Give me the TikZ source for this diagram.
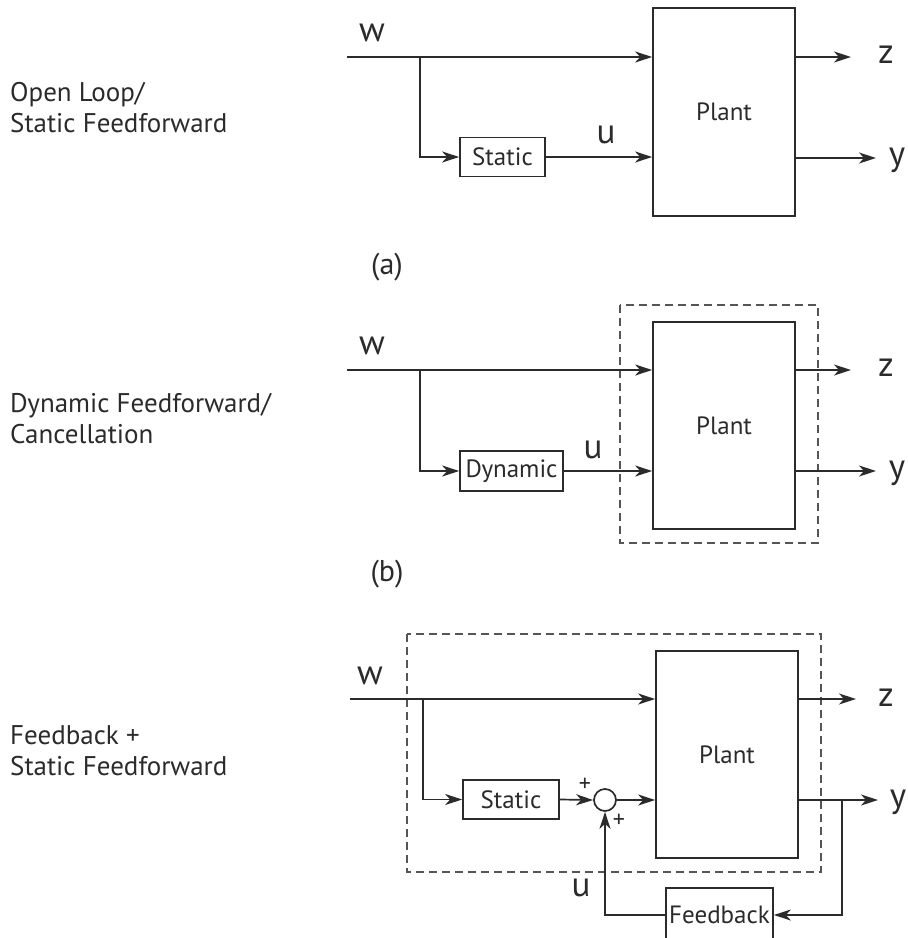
\documentclass[tikz,border=0pt]{standalone}
\usepackage{fontspec}
\setmainfont{PT Sans}
\usetikzlibrary{arrows.meta}
\definecolor{ink}{HTML}{2B2B2B}
\definecolor{dashcol}{HTML}{555555}
\tikzset{
  sig/.style={draw=ink, line width=1.7pt, -{Stealth[length=17pt,width=11pt,inset=5pt]}},
  blk/.style={draw=ink, line width=1.7pt, rectangle, inner sep=0pt, text=ink, font=\fontsize{25}{28}\selectfont},
  dbox/.style={draw=dashcol, line width=1.3pt, dash pattern=on 8pt off 5pt},
  lbl/.style={text=ink, font=\fontsize{35}{40}\selectfont, inner sep=0pt},
  side/.style={text=ink, font=\fontsize{27}{31}\selectfont, align=left, anchor=west, inner sep=0pt},
  captext/.style={text=ink, font=\fontsize{30}{34}\selectfont, inner sep=0pt},
  sgn/.style={text=ink, font=\fontsize{24}{26}\selectfont, inner sep=0pt},
  sumj/.style={draw=ink, line width=1.7pt, circle, minimum size=22pt, inner sep=0pt}
}
\begin{document}
\begin{tikzpicture}[x=1pt,y=-1pt]
\useasboundingbox (0,0) rectangle (908,938);
\fill[white] (0,0) rectangle (908,938);

% ---------- panel (a)
\node[side] (tA) at (10,108) {Open Loop/\\Static Feedforward};
\node[blk, minimum width=142pt, minimum height=208pt] (plA) at (724,112) {Plant};
\node[blk, minimum width=85pt, minimum height=39pt] (stA) at (502.5,157) {Static};
\coordinate (wA) at (347,57);
\coordinate (brA) at (420,57);
\coordinate (zA) at (851,57);
\coordinate (yA) at (876,158);
\draw[sig] (wA) -- (wA -| plA.west);
\draw[sig] (brA) |- (stA.west);
\draw[sig] (stA.east) -- (stA.east -| plA.west);
\draw[sig] (zA -| plA.east) -- (zA);
\draw[sig] (yA -| plA.east) -- (yA);
\node[lbl] (wLA) at (372,33) {w};
\node[lbl] (uLA) at (606,135) {u};
\node[lbl] (zLA) at (886,55) {z};
\node[lbl] (yLA) at (897,160) {y};
\node[captext] (capA) at (387,267) {(a)};

% ---------- panel (b)
\node[side] (tB) at (10,419) {Dynamic Feedforward/\\Cancellation};
\draw[dbox] (620,305) rectangle (818,543);
\node[blk, minimum width=142pt, minimum height=207pt] (plB) at (724,425.5) {Plant};
\node[blk, minimum width=103pt, minimum height=40pt] (dyB) at (511.5,471) {Dynamic};
\coordinate (wB) at (347,370);
\coordinate (brB) at (420,370);
\coordinate (zB) at (851,370);
\coordinate (yB) at (876,471);
\draw[sig] (wB) -- (wB -| plB.west);
\draw[sig] (brB) |- (dyB.west);
\draw[sig] (dyB.east) -- (dyB.east -| plB.west);
\draw[sig] (zB -| plB.east) -- (zB);
\draw[sig] (yB -| plB.east) -- (yB);
\node[lbl] (wLB) at (372,346) {w};
\node[lbl] (uLB) at (593,450) {u};
\node[lbl] (zLB) at (886,368) {z};
\node[lbl] (yLB) at (897,473) {y};
\node[captext] (capB) at (387,574) {(b)};

% ---------- panel (c)
\node[side] (tC) at (10,751) {Feedback +\\Static Feedforward};
\draw[dbox] (407,634) rectangle (821,872);
\node[blk, minimum width=142pt, minimum height=207pt] (plC) at (727,754.5) {Plant};
\node[blk, minimum width=96pt, minimum height=39pt] (stC) at (511,799.5) {Static};
\node[sumj] (sum) at (605,800) {};
\node[blk, minimum width=107pt, minimum height=54pt] (fb) at (719.5,915) {Feedback};
\coordinate (wC) at (350,699);
\coordinate (brC) at (423,699);
\coordinate (zC) at (856,699);
\coordinate (yC) at (878,800);
\coordinate (brY) at (842,800);
\draw[sig] (wC) -- (wC -| plC.west);
\draw[sig] (brC) |- (stC.west);
\draw[sig] (stC.east) -- (sum.west);
\draw[sig] (sum.east) -- (sum.east -| plC.west);
\draw[sig] (zC -| plC.east) -- (zC);
\draw[sig] (yC -| plC.east) -- (yC);
\draw[sig] (brY) |- (fb.east);
\draw[sig] (fb.west) -| (sum.south);
\node[sgn] (p1) at (585,785) {+};
\node[sgn] (p2) at (619,821) {+};
\node[lbl] (wLC) at (370,676) {w};
\node[lbl] (uLC) at (581,888) {u};
\node[lbl] (zLC) at (886,698) {z};
\node[lbl] (yLC) at (898,802) {y};
\end{tikzpicture}
\end{document}
